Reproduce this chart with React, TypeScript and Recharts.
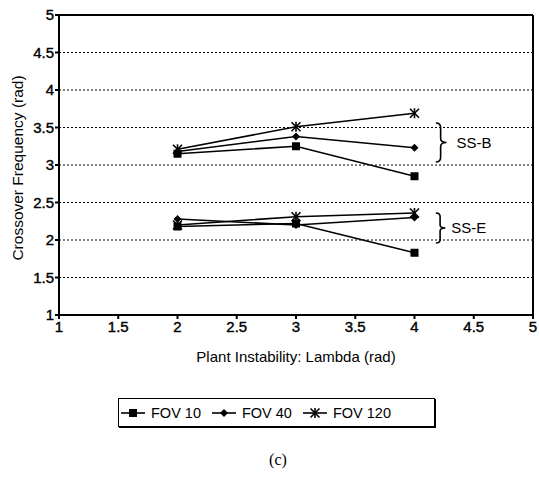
import React from 'react';
import {
  LineChart,
  Line,
  XAxis,
  YAxis,
  CartesianGrid,
  ReferenceLine,
  ReferenceArea,
} from 'recharts';

// Plant instability values (x)
const lambdas = [2, 3, 4];

// SS-B group
const fov10B = [3.15, 3.25, 2.85];
const fov40B = [3.18, 3.38, 3.23];
const fov120B = [3.21, 3.51, 3.69];

// SS-E group
const fov10E = [2.18, 2.22, 1.83];
const fov40E = [2.28, 2.2, 2.3];
const fov120E = [2.2, 2.31, 2.36];

const xTicks = [1, 1.5, 2, 2.5, 3, 3.5, 4, 4.5, 5];
const yTicks = [1, 1.5, 2, 2.5, 3, 3.5, 4, 4.5, 5];
const gridLevels = [1.5, 2, 2.5, 3, 3.5, 4, 4.5];

const legendItems = [
  { name: 'FOV 10', marker: 'square' },
  { name: 'FOV 40', marker: 'diamond' },
  { name: 'FOV 120', marker: 'star' },
];

const data = lambdas.map((x, i) => ({
  x,
  b10: fov10B[i],
  b40: fov40B[i],
  b120: fov120B[i],
  e10: fov10E[i],
  e40: fov40E[i],
  e120: fov120E[i],
}));

const FONT = '"Liberation Sans", Arial, Helvetica, sans-serif';

function Marker({ type, cx, cy }: { type: string; cx: number; cy: number }) {
  if (type === 'square') {
    return <rect x={cx - 4} y={cy - 4} width={8} height={8} fill="#000" />;
  }
  if (type === 'diamond') {
    return (
      <polygon
        points={`${cx},${cy - 4} ${cx + 4},${cy} ${cx},${cy + 4} ${cx - 4},${cy}`}
        fill="#000"
      />
    );
  }
  const r = 4.5;
  return (
    <g stroke="#000" strokeWidth={1.6}>
      <line x1={cx - r} y1={cy - r} x2={cx + r} y2={cy + r} />
      <line x1={cx - r} y1={cy + r} x2={cx + r} y2={cy - r} />
      <line x1={cx} y1={cy - r - 0.5} x2={cx} y2={cy + r + 0.5} />
    </g>
  );
}

const dotFor = (type: string) => (props: any) => {
  const { cx, cy, index } = props;
  if (cx == null || cy == null) return <g key={index} />;
  return (
    <g key={index}>
      <Marker type={type} cx={cx} cy={cy} />
    </g>
  );
};

// Curly brace drawn inside a reference area box
function Brace(props: any) {
  const { x, y, width: w, height: h } = props;
  if (x == null) return null;
  const m = x + w * 0.45;
  const d = `M ${x} ${y} Q ${m} ${y} ${m} ${y + h * 0.12}
    L ${m} ${y + h * 0.4} Q ${m} ${y + h / 2} ${x + w} ${y + h / 2}
    Q ${m} ${y + h / 2} ${m} ${y + h * 0.6}
    L ${m} ${y + h * 0.88} Q ${m} ${y + h} ${x} ${y + h}`;
  return <path d={d} fill="none" stroke="#000" strokeWidth={1.6} />;
}

const seriesDefs = [
  { key: 'b10', marker: 'square' },
  { key: 'b40', marker: 'diamond' },
  { key: 'b120', marker: 'star' },
  { key: 'e10', marker: 'square' },
  { key: 'e40', marker: 'diamond' },
  { key: 'e120', marker: 'star' },
];

export default function App() {
  const tickStyle = {
    fontSize: 15,
    fill: '#000',
    fontFamily: FONT,
    stroke: '#000',
    strokeWidth: 0.4,
  };
  return (
    <div
      style={{
        position: 'absolute',
        left: 0,
        top: 0,
        width: 539,
        height: 478,
        background: '#fff',
        fontFamily: FONT,
      }}
    >
      <LineChart
        width={539}
        height={478}
        data={data}
        margin={{ top: 15, right: 6, left: 0, bottom: 113 }}
      >
        <CartesianGrid
          horizontal
          vertical={false}
          horizontalValues={gridLevels}
          stroke="#000"
          strokeDasharray="2 2"
          strokeWidth={1}
        />
        <XAxis
          type="number"
          dataKey="x"
          domain={[1, 5]}
          ticks={xTicks}
          tick={tickStyle}
          tickSize={4}
          tickMargin={2}
          stroke="#000"
          strokeWidth={2}
          height={50}
          tickFormatter={(v) => String(v)}
          label={(p: any) => (
            <text
              x={p.viewBox.x + p.viewBox.width / 2}
              y={p.viewBox.y + 47}
              textAnchor="middle"
              fontSize={15}
              fontFamily={FONT}
              fill="#000"
            >
              Plant Instability: Lambda (rad)
            </text>
          )}
        />
        <YAxis
          type="number"
          domain={[1, 5]}
          ticks={yTicks}
          tick={tickStyle}
          tickSize={4}
          tickMargin={1}
          stroke="#000"
          strokeWidth={2}
          width={59}
          tickFormatter={(v) => String(v)}
          label={(p: any) => {
            const cx = 17;
            const cy = p.viewBox.y + p.viewBox.height / 2 + 3;
            return (
              <text
                x={cx}
                y={cy}
                transform={`rotate(-90 ${cx} ${cy})`}
                textAnchor="middle"
                dominantBaseline="central"
                fontSize={15.5}
                fontFamily={FONT}
                fill="#000"
              >
                Crossover Frequency (rad)
              </text>
            );
          }}
        />
        <ReferenceLine y={5} stroke="#000" strokeWidth={2} />
        <ReferenceLine x={5} stroke="#000" strokeWidth={2} />
        <ReferenceArea
          x1={4.18}
          x2={4.27}
          y1={3.04}
          y2={3.56}
          shape={<Brace />}
          label={{
            value: 'SS-B',
            position: 'right',
            offset: 10,
            fontSize: 15,
            fill: '#000',
            fontFamily: FONT,
          }}
        />
        <ReferenceArea
          x1={4.18}
          x2={4.26}
          y1={1.96}
          y2={2.36}
          shape={<Brace />}
          label={{
            value: 'SS-E',
            position: 'right',
            offset: 6,
            fontSize: 15,
            fill: '#000',
            fontFamily: FONT,
          }}
        />
        {seriesDefs.map((s) => (
          <Line
            key={s.key}
            dataKey={s.key}
            stroke="#000"
            strokeWidth={1.6}
            dot={dotFor(s.marker)}
            activeDot={false}
            isAnimationActive={false}
          />
        ))}
      </LineChart>

      <div
        style={{
          position: 'absolute',
          left: 118,
          top: 398,
          width: 315,
          height: 27,
          border: '1px solid #000',
          boxShadow: '1px 1px 0 #000',
          display: 'flex',
          alignItems: 'center',
          fontSize: 14.5,
        }}
      >
        {legendItems.map((item, i) => (
          <div
            key={item.name}
            style={{ display: 'flex', alignItems: 'center', marginLeft: i === 0 ? 2 : 11 }}
          >
            <svg width={24} height={14}>
              <line x1={0} y1={7} x2={24} y2={7} stroke="#000" strokeWidth={1.6} />
              <Marker type={item.marker} cx={12} cy={7} />
            </svg>
            <span style={{ marginLeft: 6 }}>{item.name}</span>
          </div>
        ))}
      </div>

      <div
        style={{
          position: 'absolute',
          left: 0,
          width: 556,
          top: 451,
          textAlign: 'center',
          fontFamily: '"Liberation Serif", "Times New Roman", serif',
          fontSize: 16,
        }}
      >
        (c)
      </div>
    </div>
  );
}
